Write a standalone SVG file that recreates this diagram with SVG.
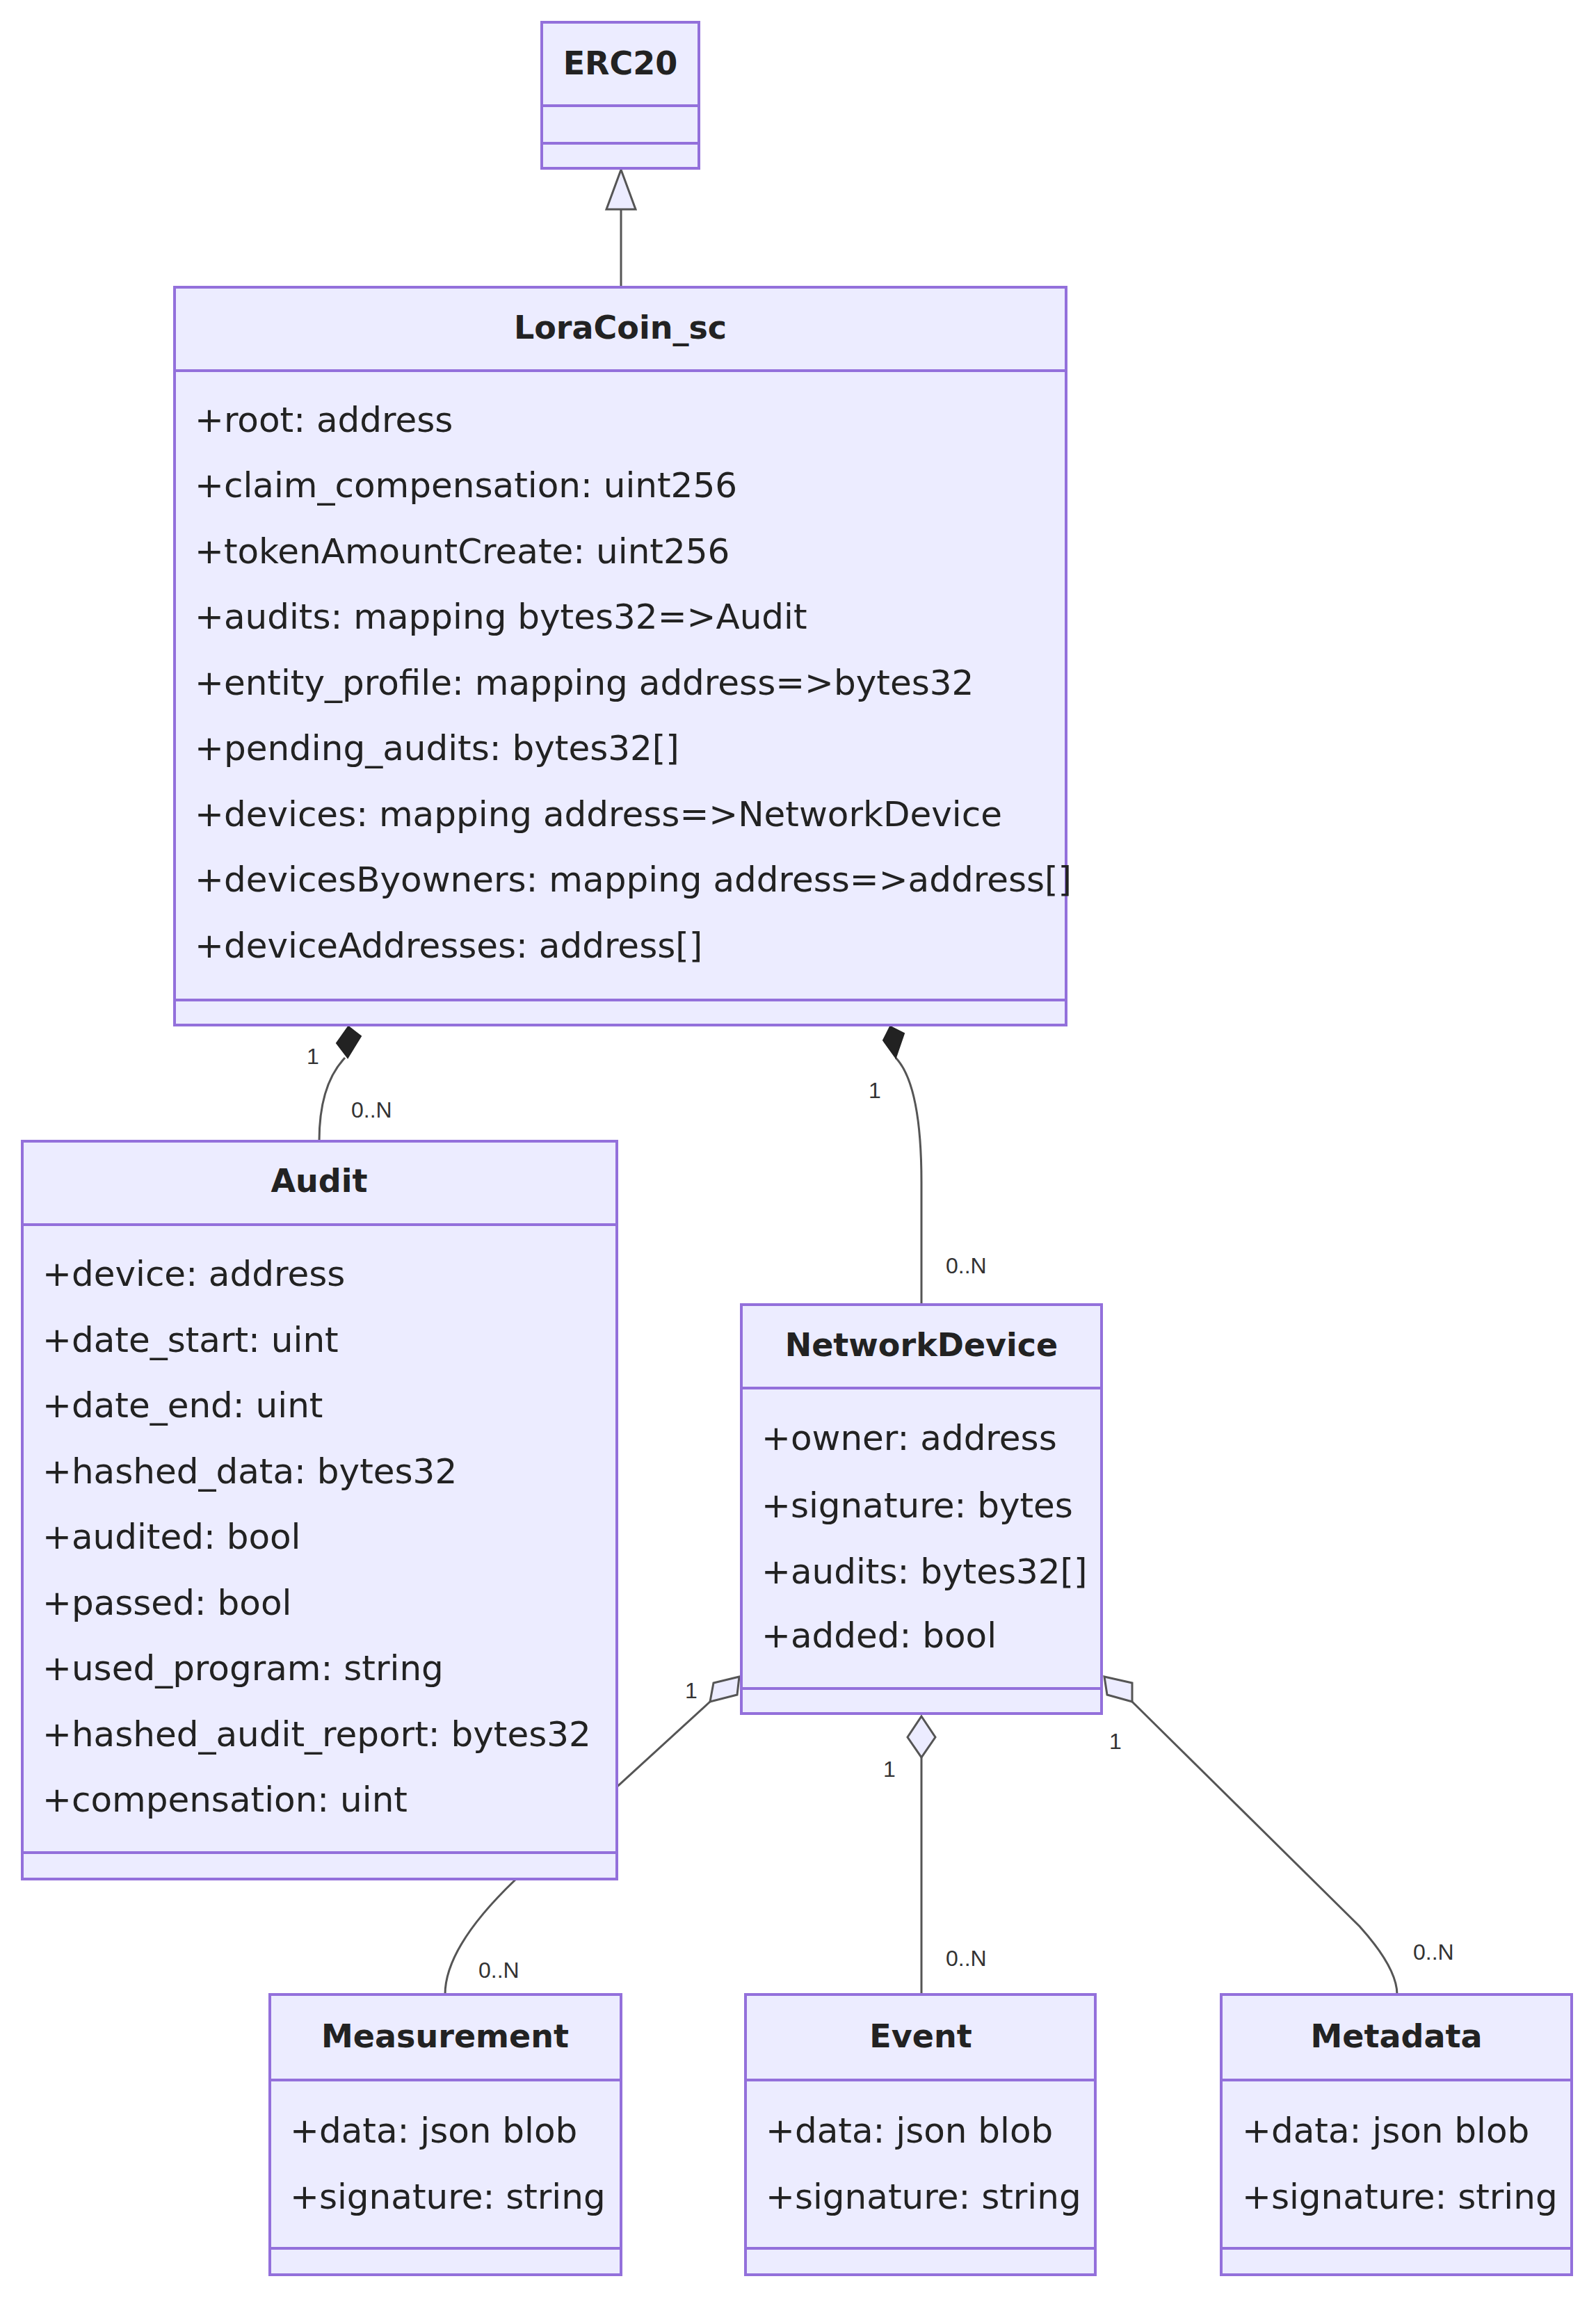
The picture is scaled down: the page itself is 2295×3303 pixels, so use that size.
<svg xmlns="http://www.w3.org/2000/svg" width="2295" height="3303" viewBox="0 0 2295 3303">
<style>
.box{fill:#ECECFF;stroke:#9370DB;stroke-width:4}
.div{stroke:#9370DB;stroke-width:4}
.t{font-family:"DejaVu Sans",sans-serif;font-size:50px;fill:#222}
.h{font-family:"DejaVu Sans",sans-serif;font-size:46px;font-weight:bold;fill:#222;text-anchor:middle}
.l{font-family:"Liberation Sans",Arial,sans-serif;font-size:32px;fill:#333}
.c{fill:none;stroke:#555;stroke-width:3}
.hd{fill:#ECECFF;stroke:#555;stroke-width:3}
.fd{fill:#222;stroke:#222;stroke-width:2}
</style>
<rect width="2295" height="3303" fill="#fff"/>
<g id="connectors">
<path class="c" d="M893 301 V413"/>
<polygon class="hd" points="893,244 872,301 914,301"/>
<path class="c" d="M496 1521 Q459 1560 459 1641"/>
<polygon class="fd" points="501,1476 519,1490 500,1521 484,1500"/>
<path class="c" d="M1288 1521 Q1325 1560 1325 1700 V1876"/>
<polygon class="fd" points="1280,1476 1300,1486 1288,1521 1270,1496"/>
<path class="c" d="M1021 2447 L740 2704 Q640 2800 640 2868"/>
<polygon class="hd" points="1063,2411 1060,2437 1021,2447 1026,2420"/>
<path class="c" d="M1325 2527 V2868"/>
<polygon class="hd" points="1325,2468 1345,2498 1325,2527 1305,2498"/>
<path class="c" d="M1628 2447 L1955 2770 Q2009 2830 2009 2868"/>
<polygon class="hd" points="1588,2411 1628,2420 1628,2447 1592,2437"/>
<text class="l" x="441" y="1530">1</text>
<text class="l" x="505" y="1607">0..N</text>
<text class="l" x="1249" y="1579">1</text>
<text class="l" x="1360" y="1831">0..N</text>
<text class="l" x="985" y="2442">1</text>
<text class="l" x="688" y="2844">0..N</text>
<text class="l" x="1270" y="2555">1</text>
<text class="l" x="1360" y="2827">0..N</text>
<text class="l" x="1595" y="2515">1</text>
<text class="l" x="2032" y="2818">0..N</text>
</g>
<g id="ERC20">
<rect class="box" x="779" y="32" width="226" height="210"/>
<line class="div" x1="779" y1="152" x2="1005" y2="152"/>
<line class="div" x1="779" y1="206" x2="1005" y2="206"/>
<text class="h" x="892" y="107">ERC20</text>
</g>
<g id="LoraCoin_sc">
<rect class="box" x="251" y="413" width="1282" height="1061"/>
<line class="div" x1="251" y1="533" x2="1533" y2="533"/>
<line class="div" x1="251" y1="1438" x2="1533" y2="1438"/>
<text class="h" x="892" y="487">LoraCoin_sc</text>
<text class="t" x="280" y="621">+root: address</text>
<text class="t" x="280" y="715">+claim_compensation: uint256</text>
<text class="t" x="280" y="810">+tokenAmountCreate: uint256</text>
<text class="t" x="280" y="904">+audits: mapping bytes32=&gt;Audit</text>
<text class="t" x="280" y="999">+entity_profile: mapping address=&gt;bytes32</text>
<text class="t" x="280" y="1093">+pending_audits: bytes32[]</text>
<text class="t" x="280" y="1188">+devices: mapping address=&gt;NetworkDevice</text>
<text class="t" x="280" y="1282">+devicesByowners: mapping address=&gt;address[]</text>
<text class="t" x="280" y="1377">+deviceAddresses: address[]</text>
</g>
<g id="Audit">
<rect class="box" x="32" y="1641" width="855" height="1061"/>
<line class="div" x1="32" y1="1761" x2="887" y2="1761"/>
<line class="div" x1="32" y1="2664" x2="887" y2="2664"/>
<text class="h" x="459" y="1714">Audit</text>
<text class="t" x="61" y="1849">+device: address</text>
<text class="t" x="61" y="1944">+date_start: uint</text>
<text class="t" x="61" y="2038">+date_end: uint</text>
<text class="t" x="61" y="2133">+hashed_data: bytes32</text>
<text class="t" x="61" y="2227">+audited: bool</text>
<text class="t" x="61" y="2322">+passed: bool</text>
<text class="t" x="61" y="2416">+used_program: string</text>
<text class="t" x="61" y="2511">+hashed_audit_report: bytes32</text>
<text class="t" x="61" y="2605">+compensation: uint</text>
</g>
<g id="NetworkDevice">
<rect class="box" x="1066" y="1876" width="518" height="588"/>
<line class="div" x1="1066" y1="1996" x2="1584" y2="1996"/>
<line class="div" x1="1066" y1="2428" x2="1584" y2="2428"/>
<text class="h" x="1325" y="1950">NetworkDevice</text>
<text class="t" x="1095" y="2085">+owner: address</text>
<text class="t" x="1095" y="2182">+signature: bytes</text>
<text class="t" x="1095" y="2277">+audits: bytes32[]</text>
<text class="t" x="1095" y="2369">+added: bool</text>
</g>
<g id="Measurement">
<rect class="box" x="388" y="2868" width="505" height="403"/>
<line class="div" x1="388" y1="2991" x2="893" y2="2991"/>
<line class="div" x1="388" y1="3233" x2="893" y2="3233"/>
<text class="h" x="640" y="2944">Measurement</text>
<text class="t" x="417" y="3081">+data: json blob</text>
<text class="t" x="417" y="3176">+signature: string</text>
</g>
<g id="Event">
<rect class="box" x="1072" y="2868" width="503" height="403"/>
<line class="div" x1="1072" y1="2991" x2="1575" y2="2991"/>
<line class="div" x1="1072" y1="3233" x2="1575" y2="3233"/>
<text class="h" x="1324" y="2944">Event</text>
<text class="t" x="1101" y="3081">+data: json blob</text>
<text class="t" x="1101" y="3176">+signature: string</text>
</g>
<g id="Metadata">
<rect class="box" x="1756" y="2868" width="504" height="403"/>
<line class="div" x1="1756" y1="2991" x2="2260" y2="2991"/>
<line class="div" x1="1756" y1="3233" x2="2260" y2="3233"/>
<text class="h" x="2008" y="2944">Metadata</text>
<text class="t" x="1786" y="3081">+data: json blob</text>
<text class="t" x="1786" y="3176">+signature: string</text>
</g>
</svg>
